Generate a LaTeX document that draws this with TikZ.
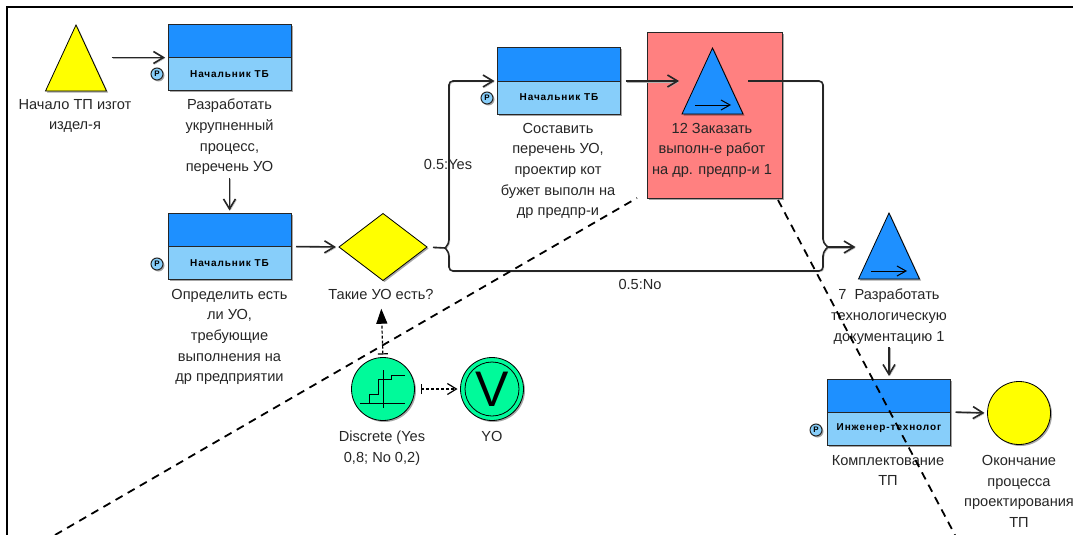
\documentclass[tikz,border=0pt]{standalone}
\usepackage{fontspec}
\setmainfont{Liberation Sans}
\newfontfamily\rolefont[LetterSpace=9]{Liberation Sans}
\usetikzlibrary{positioning,arrows.meta,shapes.geometric,shadows}
\definecolor{taskblue}{HTML}{1E90FF}
\definecolor{roleblue}{HTML}{87CEFA}
\definecolor{rulegreen}{HTML}{00FA9A}
\definecolor{hostred}{HTML}{FF8080}
\definecolor{eventyellow}{HTML}{FFFF00}
\tikzset{
  softshadow/.style={drop shadow={shadow xshift=1.5pt,shadow yshift=-1.5pt,fill=black,opacity=.35}},
  tasktop/.style={draw=black!85,line width=1pt,fill=taskblue,minimum width=123pt,minimum height=33pt,inner sep=0pt,outer sep=0pt,softshadow},
  taskrole/.style={draw=black!85,line width=1pt,fill=roleblue,minimum width=123pt,minimum height=33pt,inner sep=0pt,outer sep=0pt,softshadow,font=\rolefont\fontsize{10}{11}\selectfont\bfseries},
  badge/.style={circle,draw=black!85,fill=roleblue,line width=1pt,minimum size=12pt,inner sep=0pt,softshadow,font=\fontsize{8}{8}\selectfont\bfseries},
  tri/.style={isosceles triangle,isosceles triangle stretches,shape border rotate=90,minimum width=61pt,minimum height=66pt,inner sep=0pt,outer sep=0pt,anchor=apex,draw=black,line width=.8pt,softshadow},
  round/.style={circle,draw=black,line width=.8pt,minimum size=63pt,inner sep=0pt,outer sep=0pt,softshadow},
  lbl/.style={align=center,anchor=north,inner sep=0pt,text=black!85,font=\fontsize{14.6}{20.6}\selectfont},
  wire/.style={line width=1.6pt,draw=black!85,preaction={draw=black!30,transform canvas={shift={(1,1)}}}},
  flow/.style={wire,-{Straight Barb[length=10pt,width=12pt]},shorten >=3pt,shorten <=5pt},
  probe/.style={line width=1.2pt,dash pattern=on 3pt off 2pt},
  cut/.style={line width=1.8pt,black,dash pattern=on 8pt off 6pt},
  inner/.style={line width=1pt,-{Straight Barb[length=9pt,width=10pt]}}
}
\begin{document}
\begin{tikzpicture}[x=1pt,y=-1pt]
  \useasboundingbox (0,0) rectangle (1073,535);
  \draw[line width=2pt] (7,535) -- (7,7) -- (1073,7);

  \node[draw=black!85,fill=hostred,line width=1pt,minimum width=135pt,minimum height=165pt,outer sep=0pt,softshadow] (host) at (714.5,115.5) {};

  \node[tri,fill=eventyellow] (start) at (76,25) {};
  \node[lbl] (lstart) at (75,99) {Начало ТП изгот\\издел-я};

  \node[tasktop] (t1) at (229.5,41) {};
  \node[taskrole,below=0pt of t1] (r1) {Начальник ТБ};
  \node[badge] (p1) at (157,74) {P};
  \node[lbl] (l1) at (229.5,99) {Разработать\\укрупненный\\процесс,\\перечень УО};

  \node[tasktop] (t2) at (229.5,230) {};
  \node[taskrole,below=0pt of t2] (r2) {Начальник ТБ};
  \node[badge] (p2) at (157,264) {P};
  \node[lbl] (l2) at (229.5,289) {Определить есть\\ли УО,\\требующие\\выполнения на\\др предприятии};

  \node[diamond,aspect=1.31,minimum width=88pt,minimum height=67pt,inner sep=0pt,outer sep=0pt,draw=black,line width=.8pt,fill=eventyellow,softshadow] (gw) at (383,247) {};
  \node[lbl] (lgw) at (381,289) {Такие УО есть?};

  \node[round,fill=rulegreen] (dc) at (383,389) {};
  \draw[line width=.9pt] (360,403) -- (405,403);
  \draw[line width=.9pt] (383,370) -- (383,408);
  \draw[line width=.9pt] (369,403) -- (369,394) -- (378,394) -- (378,379) -- (391,379) -- (391,375) -- (405,375);
  \node[lbl] (ldc) at (382,431) {Discrete (Yes\\0,8; No 0,2)};

  \node[round,fill=rulegreen] (vr) at (492,389) {};
  \node[circle,draw=black,line width=.8pt,minimum size=54pt,inner sep=0pt,font=\fontsize{50}{50}\selectfont] (vin) at (492,389) {V};
  \node[lbl] (lvr) at (492,431) {YO};

  \node[tasktop] (t3) at (559,64.5) {};
  \node[taskrole,below=0pt of t3] (r3) {Начальник ТБ};
  \node[badge] (p3) at (487,98) {P};
  \node[lbl] (l3) at (558,123) {Составить\\перечень УО,\\проектир кот\\бужет выполн на\\др предпр-и};

  \node[tri,fill=taskblue] (b1) at (712.5,48) {};
  \draw[inner] (695,105) -- (731,105);
  \node[lbl] (lb1) at (712,123) {12 Заказать\\выполн-е работ\\на др. предпр-и 1};

  \node[tri,fill=taskblue] (b2) at (889,213) {};
  \draw[inner] (871,271) -- (907,271);
  \node[lbl] (lb2) at (889,289) {7\ \ Разработать\\технологическую\\документацию 1};

  \node[tasktop] (t4) at (889,395.5) {};
  \node[taskrole,below=0pt of t4] (r4) {Инженер-технолог};
  \node[badge] (p4) at (816,430) {P};
  \node[lbl] (l4) at (888,455) {Комплектование\\ТП};

  \node[round,fill=eventyellow] (stop) at (1019,413) {};
  \node[lbl] (lstop) at (1019,455) {Окончание\\процесса\\проектирования\\ТП};

  \node[lbl] (yes) at (448,159) {0.5:Yes};
  \node[lbl] (no) at (640,279) {0.5:No};

  \coordinate (splitin) at (445,248);
  \coordinate (splitlow) at (449,271);
  \coordinate (mergehigh) at (823,81);
  \coordinate (mergelow) at (823,271);
  \coordinate (mergeout) at (828,247);

  \draw[flow] (start.right corner |- t1.south west) -- (t1.south west);
  \draw[flow,shorten <=3pt] (l1.south) -- (t2.north);
  \draw[flow] (t2.south east) -- (gw.west);
  \draw[wire,shorten <=6pt] (gw.east) -- (splitin);
  \draw[flow,rounded corners=4pt,shorten <=0pt] (splitin) -- ++(4,-4) |- (t3.south west);
  \draw[wire,rounded corners=4pt] (splitin) -- ++(4,4) -- (splitlow) -- (mergelow) -- ++(0,-19) -- (mergeout);
  \draw[flow] (t3.south east) -- (b1.left corner |- t3.south east);
  \draw[wire,rounded corners=4pt,shorten <=5pt] (b1.right corner |- mergehigh) -- (mergehigh) -- ++(0,162) -- (mergeout);
  \draw[flow,shorten <=0pt] (mergeout) -- (b2.left corner |- mergeout);
  \draw[flow,shorten <=3pt] (lb2.south) -- (t4.north);
  \draw[flow] (t4.south east) -- (stop.west);

  \draw[probe,{Bar[width=10pt]}-{Triangle[length=15pt,width=11pt]},shorten <=3pt,shorten >=9pt] (dc.north) -- (lgw.south);
  \draw[probe,{Bar[width=10pt]}-{Straight Barb[length=9pt,width=11pt]},shorten <=6pt,shorten >=3pt] (dc.east) -- (vr.west);

  \draw[cut] (55,535) -- (637,198);
  \draw[cut] (778,200) -- (955,535);
\end{tikzpicture}
\end{document}
